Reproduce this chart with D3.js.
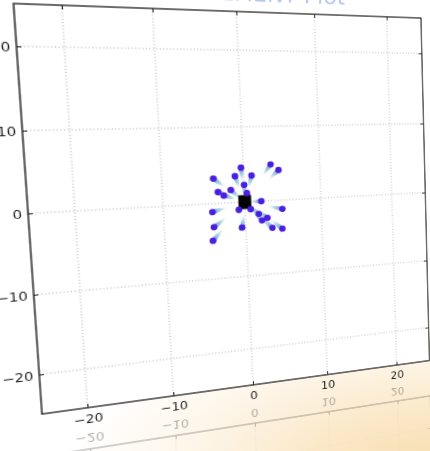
<!DOCTYPE html>
<html>
<head>
<meta charset="utf-8">
<script src="https://cdn.jsdelivr.net/npm/d3@7"></script>
<style>
  html, body { margin: 0; padding: 0; }
  body {
    width: 430px; height: 451px; overflow: hidden; position: relative;
    background: radial-gradient(ellipse 380px 170px at 450px 475px,
      #f7dcab 0%, #fbe8c8 38%, #fdf4e5 66%, #ffffff 100%);
  }
  #stage { position: absolute; left: 0; top: 0; transform-origin: 0 0; }
  #heading { position: absolute; left: 0; top: 0; }
</style>
</head>
<body>
<svg id="stage"></svg>
<svg id="heading" width="430" height="40"></svg>
<script>
// ---- data ----
const xDomain = [-25, 25];
const yDomain = [-25, 25];
const xTicks = [-20, -10, 0, 10, 20];
const yTicks = [-20, -10, 0, 10, 20];
const titleText = "DISPLACEMENT Plot";

// central body
const hubX = [0];
const hubY = [0];

// particle positions
const pointX = [3.5, 4.5, -0.3, -1.1, 1.0, -3.8, 0.0, -3.3, -1.7, -2.6, 2.1, -4.1,
                0.7, 1.7, 4.8, 2.8, 2.1, -4.0, -0.5, 3.4, 4.7, -4.2, -0.8, 0.3];
const pointY = [4.9, 4.1, 4.6, 3.5, 3.5, 3.3, 2.3, 1.5, 1.7, 1.0, 0.0, -1.1,
                -1.0, -1.7, -1.2, -2.3, -2.6, -3.1, -3.4, -3.7, -3.9, -4.9, -1.0, 1.2];
// where each particle's trail begins
const trailX = [2.4, 3.2, -0.2, -0.6, 0.5, -2.4, 0.0, -1.6, -0.5, -1.0, 0.6, -2.3,
                0.2, 0.5, 2.9, 1.4, 1.0, -2.4, -0.2, 2.0, 3.2, -2.9, -0.1, 0.1];
const trailY = [3.4, 2.9, 2.7, 1.8, 1.8, 2.1, 0.7, 0.7, 0.5, 0.4, 0.0, -0.6,
                -0.3, -0.5, -0.7, -1.1, -1.2, -1.9, -1.7, -2.2, -2.6, -3.4, -0.1, 0.3];

// ---- flat layout ----
const W = 560, H = 600;
const m = { left: 70, top: 50 };
const pw = 400, ph = 400;
const mirrorY = m.top + ph + 21.5;

// where the plot corners land on the page (tilted sheet)
const cornersFrom = [[m.left, m.top], [m.left + pw, m.top], [m.left, m.top + ph], [m.left + pw, m.top + ph]];
const cornersTo   = [[13.5, 3.5], [421, 18], [42, 414], [429.5, 360.5]];

function solve(A, b) {
  const n = b.length;
  const M = A.map((r, i) => r.concat([b[i]]));
  for (let c = 0; c < n; c++) {
    let p = c;
    for (let r = c + 1; r < n; r++) if (Math.abs(M[r][c]) > Math.abs(M[p][c])) p = r;
    [M[c], M[p]] = [M[p], M[c]];
    for (let r = 0; r < n; r++) {
      if (r === c) continue;
      const f = M[r][c] / M[c][c];
      for (let k = c; k <= n; k++) M[r][k] -= f * M[c][k];
    }
  }
  return M.map((r, i) => r[n] / r[i]);
}
function homography(src, dst) {
  const A = [], b = [];
  for (let i = 0; i < 4; i++) {
    const [u, v] = src[i], [x, y] = dst[i];
    A.push([u, v, 1, 0, 0, 0, -u * x, -v * x]); b.push(x);
    A.push([0, 0, 0, u, v, 1, -u * y, -v * y]); b.push(y);
  }
  return solve(A, b);
}
const h = homography(cornersFrom, cornersTo);
const css = `matrix3d(${h[0]},${h[3]},0,${h[6]},${h[1]},${h[4]},0,${h[7]},0,0,1,0,${h[2]},${h[5]},0,1)`;

const svg = d3.select("#stage")
  .attr("width", W).attr("height", H)
  .style("transform", css);

const x = d3.scaleLinear().domain(xDomain).range([0, pw]);
const y = d3.scaleLinear().domain(yDomain).range([ph, 0]);

const defs = svg.append("defs");

// axes frame, grid, ticks and labels
function drawFrame(g, faceFill) {
  if (faceFill) {
    g.append("rect").attr("width", pw).attr("height", ph).attr("fill", faceFill);
  }
  const grid = g.append("g").attr("stroke", "#ababab").attr("stroke-width", 1)
    .attr("stroke-dasharray", "1,2.2");
  grid.selectAll(".gx").data(xTicks).join("line")
    .attr("x1", d => x(d)).attr("x2", d => x(d)).attr("y1", 0).attr("y2", ph);
  grid.selectAll(".gy").data(yTicks).join("line")
    .attr("y1", d => y(d)).attr("y2", d => y(d)).attr("x1", 0).attr("x2", pw);

  const fmt = d3.format("d");
  g.append("g").attr("transform", `translate(0,${ph})`)
    .call(d3.axisBottom(x).tickValues(xTicks).tickFormat(fmt).tickSizeInner(-4).tickSizeOuter(0).tickPadding(7));
  g.append("g")
    .call(d3.axisLeft(y).tickValues(yTicks).tickFormat(fmt).tickSizeInner(-4).tickSizeOuter(0).tickPadding(5));
  g.append("g").call(d3.axisTop(x).tickValues(xTicks).tickFormat("").tickSizeInner(-4).tickSizeOuter(0));
  g.append("g").attr("transform", `translate(${pw},0)`)
    .call(d3.axisRight(y).tickValues(yTicks).tickFormat("").tickSizeInner(-4).tickSizeOuter(0));
  g.selectAll(".domain").remove();
  g.selectAll(".tick line").attr("stroke", "#222").attr("stroke-width", 1);
  g.selectAll(".tick text").attr("fill", "#1e1e1e")
    .style("font-family", "'DejaVu Sans', sans-serif").style("font-size", "12.5px");

  g.append("rect").attr("width", pw).attr("height", ph)
    .attr("fill", "none").attr("stroke", "#1c1c1c").attr("stroke-width", 1.3);
}

// mirrored copy underneath, faded out
const fade = defs.append("linearGradient").attr("id", "fade")
  .attr("gradientUnits", "userSpaceOnUse")
  .attr("x1", 0).attr("y1", mirrorY).attr("x2", 0).attr("y2", mirrorY + 90);
fade.append("stop").attr("offset", 0).attr("stop-color", "#fff").attr("stop-opacity", 1);
fade.append("stop").attr("offset", 1).attr("stop-color", "#fff").attr("stop-opacity", 0.3);
defs.append("mask").attr("id", "reflMask")
  .attr("maskUnits", "userSpaceOnUse").attr("x", 0).attr("y", mirrorY).attr("width", W).attr("height", H - mirrorY)
  .append("rect").attr("x", 0).attr("y", mirrorY).attr("width", W).attr("height", H - mirrorY)
  .attr("fill", "url(#fade)");

const reflWrap = svg.append("g").attr("mask", "url(#reflMask)").attr("opacity", 0.38);
const refl = reflWrap.append("g")
  .attr("transform", `translate(0,${2 * mirrorY}) scale(1,-1) translate(${m.left},${m.top})`);
drawFrame(refl, null);

// main chart
const plot = svg.append("g").attr("transform", `translate(${m.left},${m.top})`);
drawFrame(plot, "#ffffff");

// heading, mostly above the top edge of the page
d3.select("#heading").append("text")
  .attr("x", 236).attr("y", 0.5)
  .attr("text-anchor", "middle")
  .attr("transform", "rotate(2.2 236 0.5)")
  .attr("fill", "#b7c9f2")
  .style("font-family", "'DejaVu Sans', sans-serif")
  .style("font-size", "22px")
  .text(titleText);

// particle trails
const data = pointX.map((px, i) => ({ px, py: pointY[i], tx: trailX[i], ty: trailY[i], i }));
data.forEach(d => {
  const gr = defs.append("linearGradient").attr("id", "trail" + d.i)
    .attr("gradientUnits", "userSpaceOnUse")
    .attr("x1", x(d.tx)).attr("y1", y(d.ty)).attr("x2", x(d.px)).attr("y2", y(d.py));
  gr.append("stop").attr("offset", 0).attr("stop-color", "#e4f4f0").attr("stop-opacity", 0.1);
  gr.append("stop").attr("offset", 0.45).attr("stop-color", "#9fd3dc").attr("stop-opacity", 0.8);
  gr.append("stop").attr("offset", 1).attr("stop-color", "#6a8ae2").attr("stop-opacity", 1);
});
function comet(d) {
  const x0 = x(d.tx), y0 = y(d.ty), x1 = x(d.px), y1 = y(d.py);
  const dx = x1 - x0, dy = y1 - y0, L = Math.hypot(dx, dy) || 1;
  const nx = -dy / L, ny = dx / L, w0 = 0.7, w1 = 2.8;
  return `M${x0 + nx * w0},${y0 + ny * w0}L${x1 + nx * w1},${y1 + ny * w1}` +
         `L${x1 - nx * w1},${y1 - ny * w1}L${x0 - nx * w0},${y0 - ny * w0}Z`;
}
plot.append("g").selectAll("path").data(data).join("path")
  .attr("d", comet)
  .attr("fill", d => `url(#trail${d.i})`);

// central body
plot.append("g").selectAll("rect").data(hubX).join("rect")
  .attr("x", d => x(d) - 6.5).attr("y", (d, i) => y(hubY[i]) - 7.5)
  .attr("width", 13).attr("height", 15)
  .attr("fill", "#050505");

// particles
plot.append("g").selectAll("circle").data(data).join("circle")
  .attr("cx", d => x(d.px)).attr("cy", d => y(d.py))
  .attr("r", 3.4)
  .attr("fill", "#4a1fe2");
</script>
</body>
</html>
